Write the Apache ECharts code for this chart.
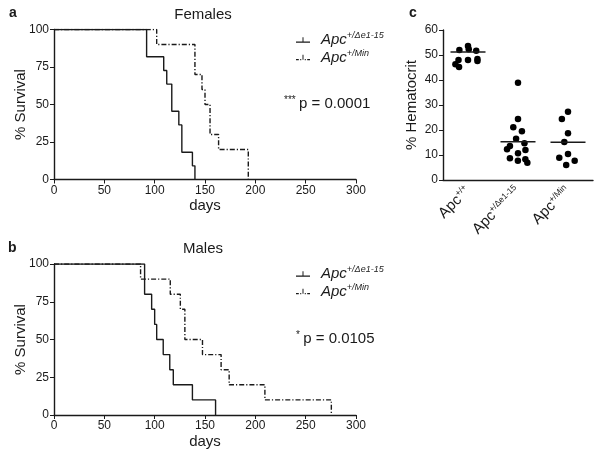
<!DOCTYPE html>
<html><head><meta charset="utf-8">
<script src="https://cdn.jsdelivr.net/npm/echarts@6/dist/echarts.min.js"></script>
<style>html,body{margin:0;padding:0;background:#fff}#c{width:600px;height:458px}</style>
</head><body><div id="c"></div>
<script>
// ---- Data ----
// Panel a: Females, Kaplan-Meier
const femDeltaDays = [0, 92, 109, 112, 117, 124, 127, 137.5, 140];
const femDeltaSurv = [100, 81.8, 72.7, 63.6, 45.5, 36.4, 18.2, 9.1, 0];
const femMinDays = [0, 102, 140, 147, 150, 155, 163.5, 193];
const femMinSurv = [100, 90, 70, 60, 50, 30, 20, 0];
// Panel b: Males
const maleDeltaDays = [0, 90, 97, 100, 102, 108.5, 115, 118.5, 137.5, 160.5];
const maleDeltaSurv = [100, 80, 70, 60, 50, 40, 30, 20, 10, 0];
const maleMinDays = [0, 86, 115.5, 125.5, 130, 147.5, 166, 174, 209.5, 275.5];
const maleMinSurv = [100, 90, 80, 70, 50, 40, 30, 20, 10, 0];
// Panel c: Hematocrit
const hemCategories = ['Apc+/+', 'Apc+/Δe1-15', 'Apc+/Min'];
const hemWT = [53.6, 52.0, 51.7, 52.3, 48.0, 48.0, 47.6, 48.4, 45.2, 46.3];
const hemDelta = [38.9, 24.4, 21.1, 19.5, 16.5, 14.7, 13.6, 12.3, 12.0, 10.7, 8.7, 8.3, 7.7, 6.9];
const hemMin = [27.3, 24.4, 18.7, 15.2, 10.4, 8.9, 7.7, 6.0];
const hemMeans = [51.2, 15.3, 15.1];
// Tick values
const survivalTicks = [0, 25, 50, 75, 100];
const dayTicks = [0, 50, 100, 150, 200, 250, 300];
const hemTicks = [0, 10, 20, 30, 40, 50, 60];

const seriesNames = ['Apc+/Δe1-15', 'Apc+/Min'];
const supOf = {'Apc+/+': '+/+', 'Apc+/Δe1-15': '+/Δe1-15', 'Apc+/Min': '+/Min'};

const FONT = 'Liberation Sans, Arial, Helvetica, sans-serif';
const INK = '#1a1a1a';
const DASHDOT = [5, 2, 1.2, 2];

function pairs(xs, ys) { return xs.map((x, i) => [x, ys[i]]); }

function kmAxes(gridIndex) {
  return {
    x: {
      type: 'value', gridIndex, min: dayTicks[0], max: dayTicks[dayTicks.length - 1],
      interval: dayTicks[1] - dayTicks[0],
      name: 'days', nameLocation: 'middle', nameGap: 19, nameMoveOverlap: false,
      nameTextStyle: {fontFamily: FONT, fontSize: 15, color: INK},
      axisLine: {lineStyle: {color: INK, width: 1.4}},
      axisTick: {length: 4, lineStyle: {color: INK, width: 1}},
      axisLabel: {fontFamily: FONT, fontSize: 12, color: INK, margin: 5},
      splitLine: {show: false}
    },
    y: {
      type: 'value', gridIndex, min: survivalTicks[0], max: survivalTicks[survivalTicks.length - 1],
      interval: survivalTicks[1] - survivalTicks[0],
      name: '% Survival', nameLocation: 'middle', nameGap: 26, nameMoveOverlap: false,
      nameTextStyle: {fontFamily: FONT, fontSize: 15, color: INK},
      axisLine: {show: true, lineStyle: {color: INK, width: 1.4}},
      axisTick: {show: true, length: 4, lineStyle: {color: INK, width: 1}},
      axisLabel: {fontFamily: FONT, fontSize: 12, color: INK, margin: 5},
      splitLine: {show: false}
    }
  };
}
const ka = kmAxes(0), kb = kmAxes(1);

function km(name, xi, data, dashed) {
  return {
    type: 'line', name, xAxisIndex: xi, yAxisIndex: xi, data, step: 'end',
    symbol: 'none', silent: true, animation: false,
    itemStyle: {color: INK},
    lineStyle: {color: INK, width: 1.4, type: dashed ? DASHDOT : 'solid'}
  };
}

const iconSolid = 'path://M0,9h20v1.6h-20z M9.3,3h1.4v7h-1.4z';
const iconDash = 'path://M0,9h4v1.6h-4z M6,9h1.5v1.6h-1.5z M9.3,3h1.4v7h-1.4z M12.5,9h1.5v1.6h-1.5z M16,9h4v1.6h-4z';

const richLegend = {
  i: {fontFamily: FONT, fontStyle: 'italic', fontSize: 15, color: INK, lineHeight: 18, padding: [0, 0, 0, 6]},
  s: {fontFamily: FONT, fontStyle: 'italic', fontSize: 9, color: INK, lineHeight: 10, verticalAlign: 'top'}
};
function legendAt(top) {
  return {
    orient: 'vertical', left: 291, top, itemGap: 1, itemWidth: 14, itemHeight: 7,
    selectedMode: false,
    data: [{name: seriesNames[0], icon: iconSolid}, {name: seriesNames[1], icon: iconDash}],
    formatter: n => '{i|Apc}{s|' + supOf[n] + '}',
    textStyle: {rich: richLegend}
  };
}

const gridBase = {outerBoundsMode: 'none', containLabel: false};
const option = {
  animation: false,
  backgroundColor: '#fff',
  grid: [
    Object.assign({left: 54, top: 29.5, width: 302, height: 150}, gridBase),
    Object.assign({left: 54, top: 264, width: 302, height: 151}, gridBase),
    Object.assign({left: 443, top: 30, width: 150, height: 150}, gridBase)
  ],
  legend: [legendAt(26), legendAt(260)],
  xAxis: [ka.x, kb.x, {
    type: 'category', gridIndex: 2, data: hemCategories,
    jitter: 26, jitterOverlap: false, jitterMargin: 3,
    axisLine: {lineStyle: {color: INK, width: 1.4}},
    axisTick: {show: false},
    axisLabel: {
      interval: 0, rotate: 45, margin: 9,
      formatter: v => '{i|Apc}{s|' + supOf[v] + '}',
      rich: {
        i: {fontFamily: FONT, fontSize: 15, color: INK, lineHeight: 17},
        s: {fontFamily: FONT, fontSize: 8.5, color: INK, lineHeight: 9, verticalAlign: 'top'}
      }
    }
  }],
  yAxis: [ka.y, kb.y, {
    type: 'value', gridIndex: 2, min: hemTicks[0], max: hemTicks[hemTicks.length - 1],
    interval: hemTicks[1] - hemTicks[0],
    name: '% Hematocrit', nameLocation: 'middle', nameGap: 24, nameMoveOverlap: false,
    nameTextStyle: {fontFamily: FONT, fontSize: 15, color: INK},
    axisLine: {show: true, lineStyle: {color: INK, width: 1.4}},
    axisTick: {show: true, length: 4, lineStyle: {color: INK, width: 1}},
    axisLabel: {fontFamily: FONT, fontSize: 12, color: INK, margin: 5},
    splitLine: {show: false}
  }],
  series: [
    km(seriesNames[0], 0, pairs(femDeltaDays, femDeltaSurv), false),
    km(seriesNames[1], 0, pairs(femMinDays, femMinSurv), true),
    km(seriesNames[0], 1, pairs(maleDeltaDays, maleDeltaSurv), false),
    km(seriesNames[1], 1, pairs(maleMinDays, maleMinSurv), true),
    {
      type: 'scatter', name: 'hem', xAxisIndex: 2, yAxisIndex: 2, symbolSize: 6.5,
      itemStyle: {color: '#000', opacity: 1}, silent: true,
      data: [].concat(
        hemWT.map(v => [hemCategories[0], v]),
        hemDelta.map(v => [hemCategories[1], v]),
        hemMin.map(v => [hemCategories[2], v])
      )
    },
    {
      type: 'custom', name: 'mean', xAxisIndex: 2, yAxisIndex: 2, silent: true, z: 5,
      data: hemMeans.map((m, i) => [hemCategories[i], m]),
      renderItem: (params, api) => {
        const p = api.coord([api.value(0), api.value(1)]);
        const w = api.size([1, 0])[0] * 0.7;
        return {type: 'line', shape: {x1: p[0] - w / 2, y1: p[1], x2: p[0] + w / 2, y2: p[1]},
                style: {stroke: INK, lineWidth: 1.5}};
      }
    }
  ],
  graphic: [
    {type: 'text', x: 9, y: 6, style: {text: 'a', font: 'bold 14px ' + FONT, fill: INK}},
    {type: 'text', x: 8, y: 241, style: {text: 'b', font: 'bold 14px ' + FONT, fill: INK}},
    {type: 'text', x: 409, y: 6, style: {text: 'c', font: 'bold 14px ' + FONT, fill: INK}},
    {type: 'text', x: 203, y: 15, style: {text: 'Females', font: '15px ' + FONT, fill: INK, textAlign: 'center', textVerticalAlign: 'middle'}},
    {type: 'text', x: 203, y: 249, style: {text: 'Males', font: '15px ' + FONT, fill: INK, textAlign: 'center', textVerticalAlign: 'middle'}},
    {type: 'text', x: 284, y: 95, style: {text: '{st|***} {p|p = 0.0001}', rich: {
      st: {fontFamily: FONT, fontSize: 10, fill: INK, lineHeight: 10, verticalAlign: 'top'},
      p: {fontFamily: FONT, fontSize: 15, fill: INK, lineHeight: 18}}}},
    {type: 'text', x: 296, y: 330, style: {text: '{st|*} {p|p = 0.0105}', rich: {
      st: {fontFamily: FONT, fontSize: 10, fill: INK, lineHeight: 10, verticalAlign: 'top'},
      p: {fontFamily: FONT, fontSize: 15, fill: INK, lineHeight: 18}}}}
  ]
};
const chart = echarts.init(document.getElementById('c'), null, {renderer: 'canvas'});
chart.setOption(option);
</script></body></html>
